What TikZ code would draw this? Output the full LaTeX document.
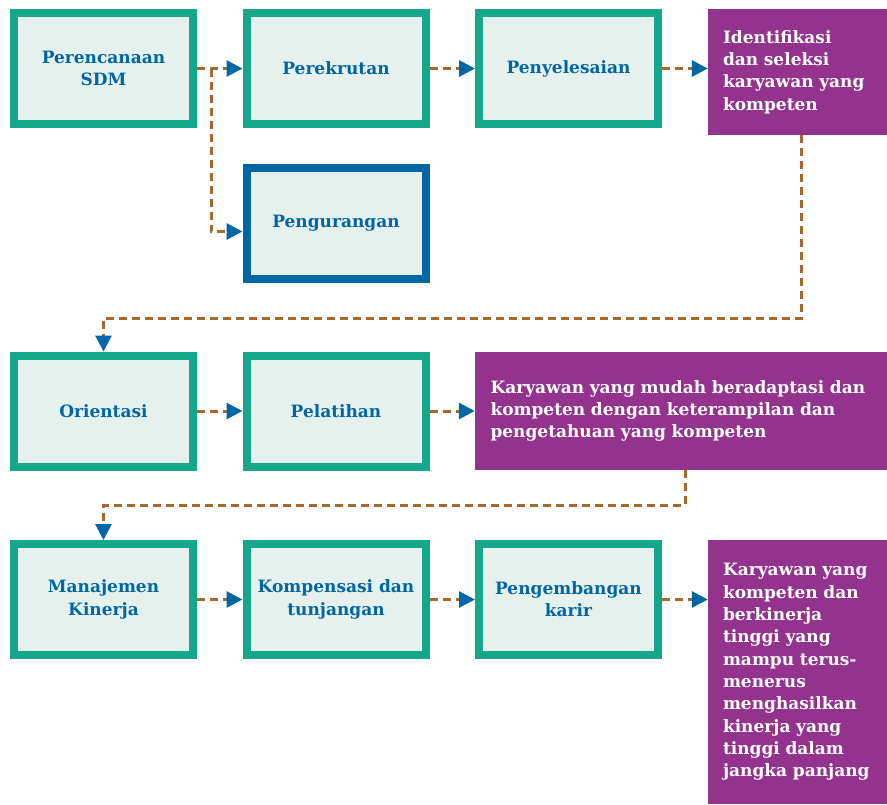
\documentclass[tikz,border=0pt]{standalone}
\usepackage{fontspec}
\usepackage{xcolor}
\usetikzlibrary{arrows.meta}
\setmainfont{DejaVu Serif}

\definecolor{tealline}{HTML}{14A78A}
\definecolor{paleteal}{HTML}{E6F0EC}
\definecolor{bluedeep}{HTML}{0067A6}
\definecolor{purplebox}{HTML}{93338E}
\definecolor{brownline}{HTML}{A5692E}

\begin{document}
\begin{tikzpicture}[x=1pt, y=-1pt,
    every node/.style={font=\bfseries\fontsize{17}{22.3}\selectfont},
    greenbox/.style={draw=tealline, line width=8pt, fill=paleteal, text=bluedeep,
        minimum width=179pt, minimum height=111pt, align=center},
    bluebox/.style={greenbox, draw=bluedeep},
    purplebox/.style={fill=purplebox, text=white, align=left, inner xsep=15pt},
    flow/.style={draw=brownline, line width=3pt, dash pattern=on 8pt off 5pt,
        -{Triangle[length=16pt, width=16pt, color=bluedeep]}}]
    \useasboundingbox (0,0) rectangle (887,804);
    % First row
    \node[greenbox] (plan) at (103.5,68.5) {Perencanaan\\SDM};
    \node[greenbox] (rekrut) at (336,68.5) {Perekrutan};
    \node[greenbox] (selesai) at (568.5,68.5) {Penyelesaian};
    \node[purplebox, minimum width=179pt, minimum height=126pt, text width=149pt] (ident) at (797.5,72) {Identifikasi\\dan seleksi\\karyawan yang\\kompeten};
    \node[bluebox] (kurang) at (336,223.5) {Pengurangan};
    % Second row
    \node[greenbox] (orient) at (103.5,411) {Orientasi};
    \node[greenbox] (latih) at (336,411) {Pelatihan};
    \node[purplebox, minimum width=412pt, minimum height=118pt, text width=381pt] (adapt) at (681,411) {Karyawan yang mudah beradaptasi dan\\kompeten dengan keterampilan dan\\pengetahuan yang kompeten};
    % Third row
    \node[greenbox] (kinerja) at (103.5,599.5) {Manajemen\\Kinerja};
    \node[greenbox] (kompen) at (336,599.5) {Kompensasi dan\\tunjangan};
    \node[greenbox] (karir) at (568.5,599.5) {Pengembangan\\karir};
    \node[purplebox, minimum width=179pt, minimum height=264pt, text width=149pt] (hasil) at (797.5,672) {Karyawan yang\\kompeten dan\\berkinerja\\tinggi yang\\mampu terus-\\menerus\\menghasilkan\\kinerja yang\\tinggi dalam\\jangka panjang};
    % Arrows of the first row
    \draw[flow] (plan) -- (rekrut);
    \draw[flow] ([xshift=14pt]plan.east) |- ([yshift=-8pt]kurang.west);
    \draw[flow] (rekrut) -- (selesai);
    \draw[flow] (selesai.east) -- (selesai.east -| ident.west);
    % Down to the second row
    \draw[flow] ([xshift=4pt]ident.south) -- ++(0,183) -| (orient.north);
    \draw[flow] (orient) -- (latih);
    \draw[flow] (latih) -- (adapt);
    % Down to the third row
    \draw[flow] ([xshift=4pt]adapt.south) -- ++(0,35) -| (kinerja.north);
    \draw[flow] (kinerja) -- (kompen);
    \draw[flow] (kompen) -- (karir);
    \draw[flow] (karir.east) -- (karir.east -| hasil.west);
\end{tikzpicture}
\end{document}
